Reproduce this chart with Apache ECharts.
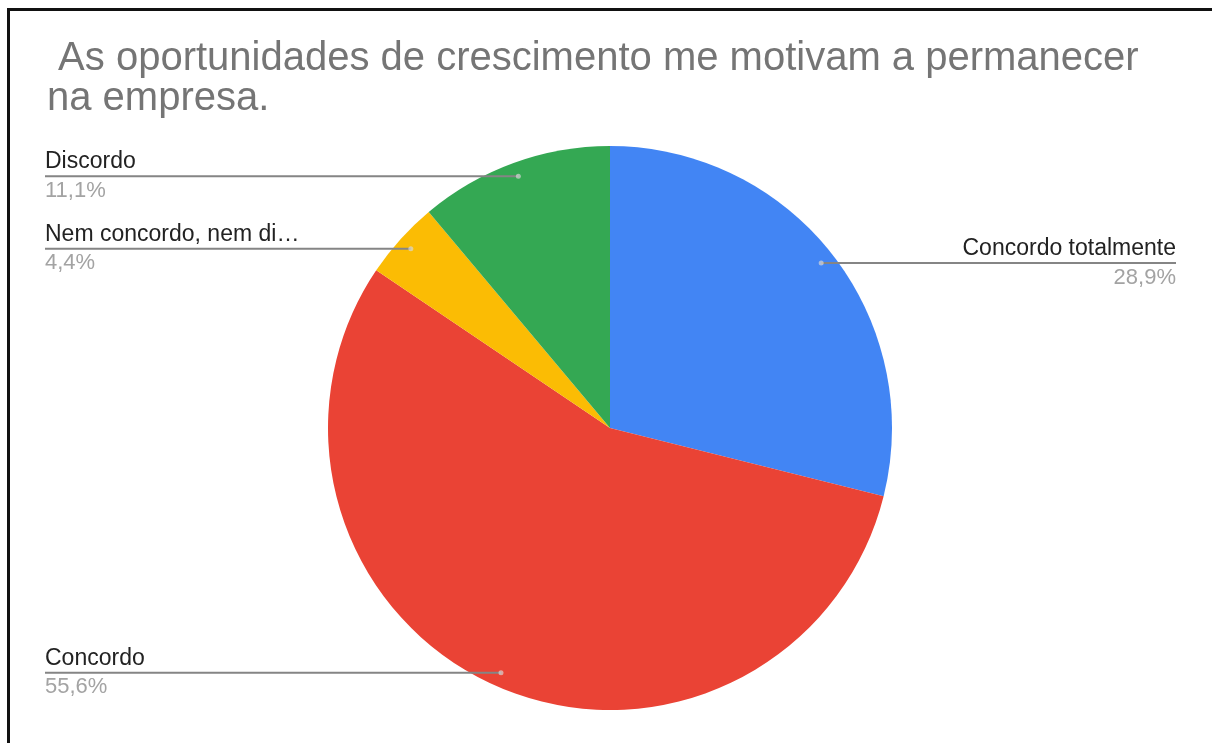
<!DOCTYPE html>
<html>
<head>
<meta charset="utf-8">
<script src="https://cdn.jsdelivr.net/npm/echarts@6/dist/echarts.min.js"></script>
<style>
  html, body { margin: 0; padding: 0; background: #fff; }
  #wrap { position: relative; width: 1212px; height: 743px; overflow: hidden; }
  #chart { position: absolute; left: 0; top: 0; width: 1212px; height: 743px; }
  #frame {
    position: absolute; left: 7px; top: 8px; right: -10px; bottom: -10px;
    border-top: 3px solid #111; border-left: 3px solid #111;
    pointer-events: none;
  }
</style>
</head>
<body>
<div id="wrap">
  <div id="chart"></div>
  <div id="frame"></div>
</div>
<script>
// Survey answers (number of responses per option)
const titleText = ' As oportunidades de crescimento me motivam a permanecer\nna empresa.';
const categories = ['Concordo totalmente', 'Concordo', 'Nem concordo, nem discordo', 'Discordo'];
const counts = [13, 25, 2, 5];
const colors = ['#4285F4', '#EA4335', '#FBBC04', '#34A853'];

const total = counts.reduce((a, b) => a + b, 0);

// Mid-angle of each slice, in value units, for the small marker dots
const midValues = [];
let acc = 0;
counts.forEach(v => { midValues.push(acc + v / 2); acc += v; });

const CX = 610, CY = 428, R = 282, DOT_R = 268;
const FONT = "'Liberation Sans', Arial, sans-serif";
const NAME_SIZE = 23, PCT_SIZE = 22;

function pct(v) {
  return (v / total * 100).toFixed(1).replace('.', ',') + '%';
}
function shortName(n) {
  return n.length > 20 ? n.slice(0, 20) + '…' : n;
}

// width of a two-line label, so the leader line can run underneath it
const measureCtx = document.createElement('canvas').getContext('2d');
function textWidth(str, size) {
  measureCtx.font = size + 'px ' + FONT;
  return measureCtx.measureText(str).width;
}
function labelWidth(i) {
  return Math.max(textWidth(shortName(categories[i]), NAME_SIZE), textWidth(pct(counts[i]), PCT_SIZE));
}

const pieData = categories.map((name, i) => ({ name, value: counts[i], itemStyle: { color: colors[i] } }));
const labelData = categories.map((name, i) => ({
  name, value: counts[i],
  label: { distanceToLabelLine: -labelWidth(i) }
}));

const chart = echarts.init(document.getElementById('chart'), null, { renderer: 'canvas' });
chart.setOption({
  backgroundColor: '#ffffff',
  animation: false,
  title: {
    text: titleText,
    left: 47, top: 39, padding: 0,
    textStyle: { fontFamily: FONT, fontSize: 40, fontWeight: 'normal', color: '#757575', lineHeight: 40 }
  },
  polar: { center: [CX, CY], radius: R },
  angleAxis: { type: 'value', min: 0, max: total, startAngle: 90, clockwise: true, show: false },
  radiusAxis: { type: 'value', min: 0, max: R, show: false },
  series: [
    {
      type: 'pie',
      left: 0, top: 0, right: 0, bottom: 0,
      center: [CX, CY],
      radius: [0, R],
      startAngle: 90,
      clockwise: true,
      silent: true,
      label: { show: false },
      labelLine: { show: false },
      itemStyle: { borderWidth: 0 },
      data: pieData,
      z: 1
    },
    {
      // label carrier: same slices, leader lines start at the marker radius
      type: 'pie',
      left: 9, top: 0, right: 0, bottom: 0,
      center: [CX - 9, CY],
      radius: [0, DOT_R],
      startAngle: 90,
      clockwise: true,
      silent: true,
      itemStyle: { color: 'rgba(0,0,0,0)', borderWidth: 0 },
      label: {
        show: true,
        position: 'outside',
        alignTo: 'edge',
        edgeDistance: 36,
        formatter: p => '{n|' + shortName(p.name) + '}\n{p|' + pct(p.value) + '}',
        rich: {
          n: { fontFamily: FONT, fontSize: NAME_SIZE, color: '#222222', lineHeight: 29 },
          p: { fontFamily: FONT, fontSize: PCT_SIZE, color: '#a3a3a3', lineHeight: 29 }
        }
      },
      labelLine: {
        show: true,
        length: 0,
        length2: 0,
        smooth: false,
        minTurnAngle: 0,
        maxSurfaceAngle: 180,
        lineStyle: { color: '#858585', width: 2 }
      },
      emphasis: { disabled: true },
      data: labelData,
      z: 2
    },
    {
      type: 'scatter',
      coordinateSystem: 'polar',
      symbol: 'circle',
      symbolSize: 5,
      silent: true,
      itemStyle: { color: 'rgba(215,215,215,0.85)' },
      data: midValues.map(m => [DOT_R, m]),
      z: 3
    }
  ]
});
</script>
</body>
</html>
